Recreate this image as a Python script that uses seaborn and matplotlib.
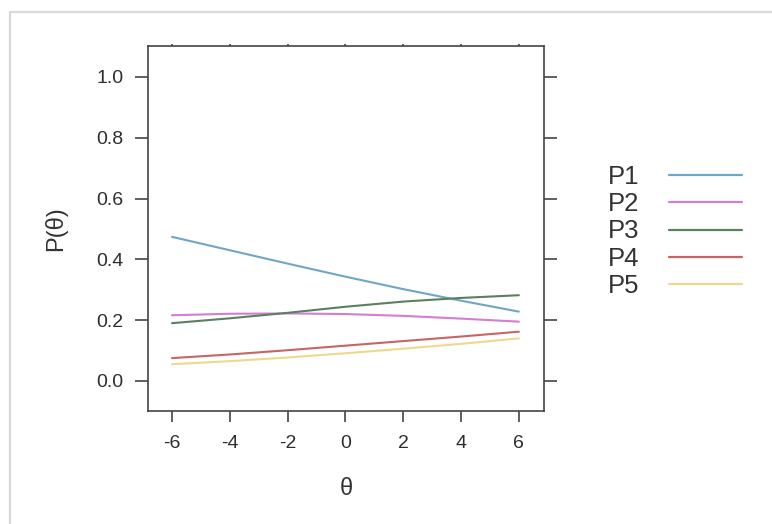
import matplotlib
matplotlib.use("Agg")
import matplotlib.pyplot as plt
from matplotlib.lines import Line2D
import seaborn as sns
import pandas as pd

theta = [-6, -4, -2, 0, 2, 4, 6]
p1 = [0.474, 0.430, 0.386, 0.343, 0.302, 0.264, 0.228]
p2 = [0.216, 0.221, 0.222, 0.220, 0.214, 0.205, 0.195]
p3 = [0.190, 0.206, 0.224, 0.244, 0.261, 0.273, 0.282]
p4 = [0.075, 0.087, 0.101, 0.116, 0.131, 0.146, 0.162]
p5 = [0.055, 0.065, 0.077, 0.091, 0.106, 0.122, 0.140]
series_names = ["P1", "P2", "P3", "P4", "P5"]
colors = ["#6fa6c6", "#d27ed2", "#5a8060", "#c86464", "#ecd98c"]
x_ticks = [-6, -4, -2, 0, 2, 4, 6]
y_ticks = [0.0, 0.2, 0.4, 0.6, 0.8, 1.0]

rows = []
for name, vals in zip(series_names, [p1, p2, p3, p4, p5]):
    for t, v in zip(theta, vals):
        rows.append({"theta": t, "P": v, "item": name})
df = pd.DataFrame(rows)

sns.set_theme(style="white")
plt.rcParams["font.family"] = ["Liberation Sans", "DejaVu Sans"]

W, H = 772, 524
fig = plt.figure(figsize=(W / 100, H / 100), dpi=100)
fig.patch.set_facecolor("white")
ax = fig.add_axes([148 / W, 1 - 411 / H, (544 - 148) / W, (411 - 46) / H])

sns.lineplot(data=df, x="theta", y="P", hue="item", palette=colors,
             linewidth=1.5, ax=ax, legend=True)

ax.set_xlim(-6.83, 6.87)
ax.set_ylim(-0.099, 1.102)
ax.set_xticks(x_ticks)
ax.set_xticklabels([str(t) for t in x_ticks])
ax.set_yticks(y_ticks)
ax.set_yticklabels([f"{v:.1f}" for v in y_ticks])

spine_c = "#444444"
for s in ax.spines.values():
    s.set_visible(True)
    s.set_color(spine_c)
    s.set_linewidth(1.2)

ax.tick_params(axis="both", which="major", direction="out", color=spine_c,
               width=1.2, labelsize=14, labelcolor="#2e2e2e")
ax.tick_params(axis="y", left=True, right=True, length=9.5, pad=8)
ax.tick_params(axis="x", bottom=True, top=False, length=8, pad=9)

# tiny ticks on top
sec = ax.secondary_xaxis("top")
sec.set_xticks(x_ticks)
sec.tick_params(axis="x", direction="out", length=1.5, width=1.2,
                color=spine_c, labeltop=False)
sec.spines["top"].set_visible(False)

ax.set_xlabel("θ", fontsize=17, color="#333333", labelpad=19)
ax.set_ylabel("P(θ)", fontsize=17, color="#333333", labelpad=21)

handles, labels = ax.get_legend_handles_labels()
leg = ax.legend(handles, labels, loc="center left",
                bbox_to_anchor=(595 / W, 1 - 231.5 / H),
                bbox_transform=fig.transFigure,
                frameon=False, markerfirst=False, fontsize=18.5,
                handlelength=2.85, handletextpad=1.15, labelspacing=0.12,
                borderpad=0, title=None)
for txt in leg.get_texts():
    txt.set_color("#333333")
for ln in leg.get_lines():
    ln.set_linewidth(1.6)

# light screenshot border (top and left)
fig.add_artist(Line2D([10 / W, 1], [1 - 12 / H, 1 - 12 / H], color="#d9d9d9",
                      linewidth=1.6, transform=fig.transFigure))
fig.add_artist(Line2D([10 / W, 10 / W], [0, 1 - 12 / H], color="#d9d9d9",
                      linewidth=1.6, transform=fig.transFigure))

fig.savefig("out.png", dpi=100, facecolor="white")
